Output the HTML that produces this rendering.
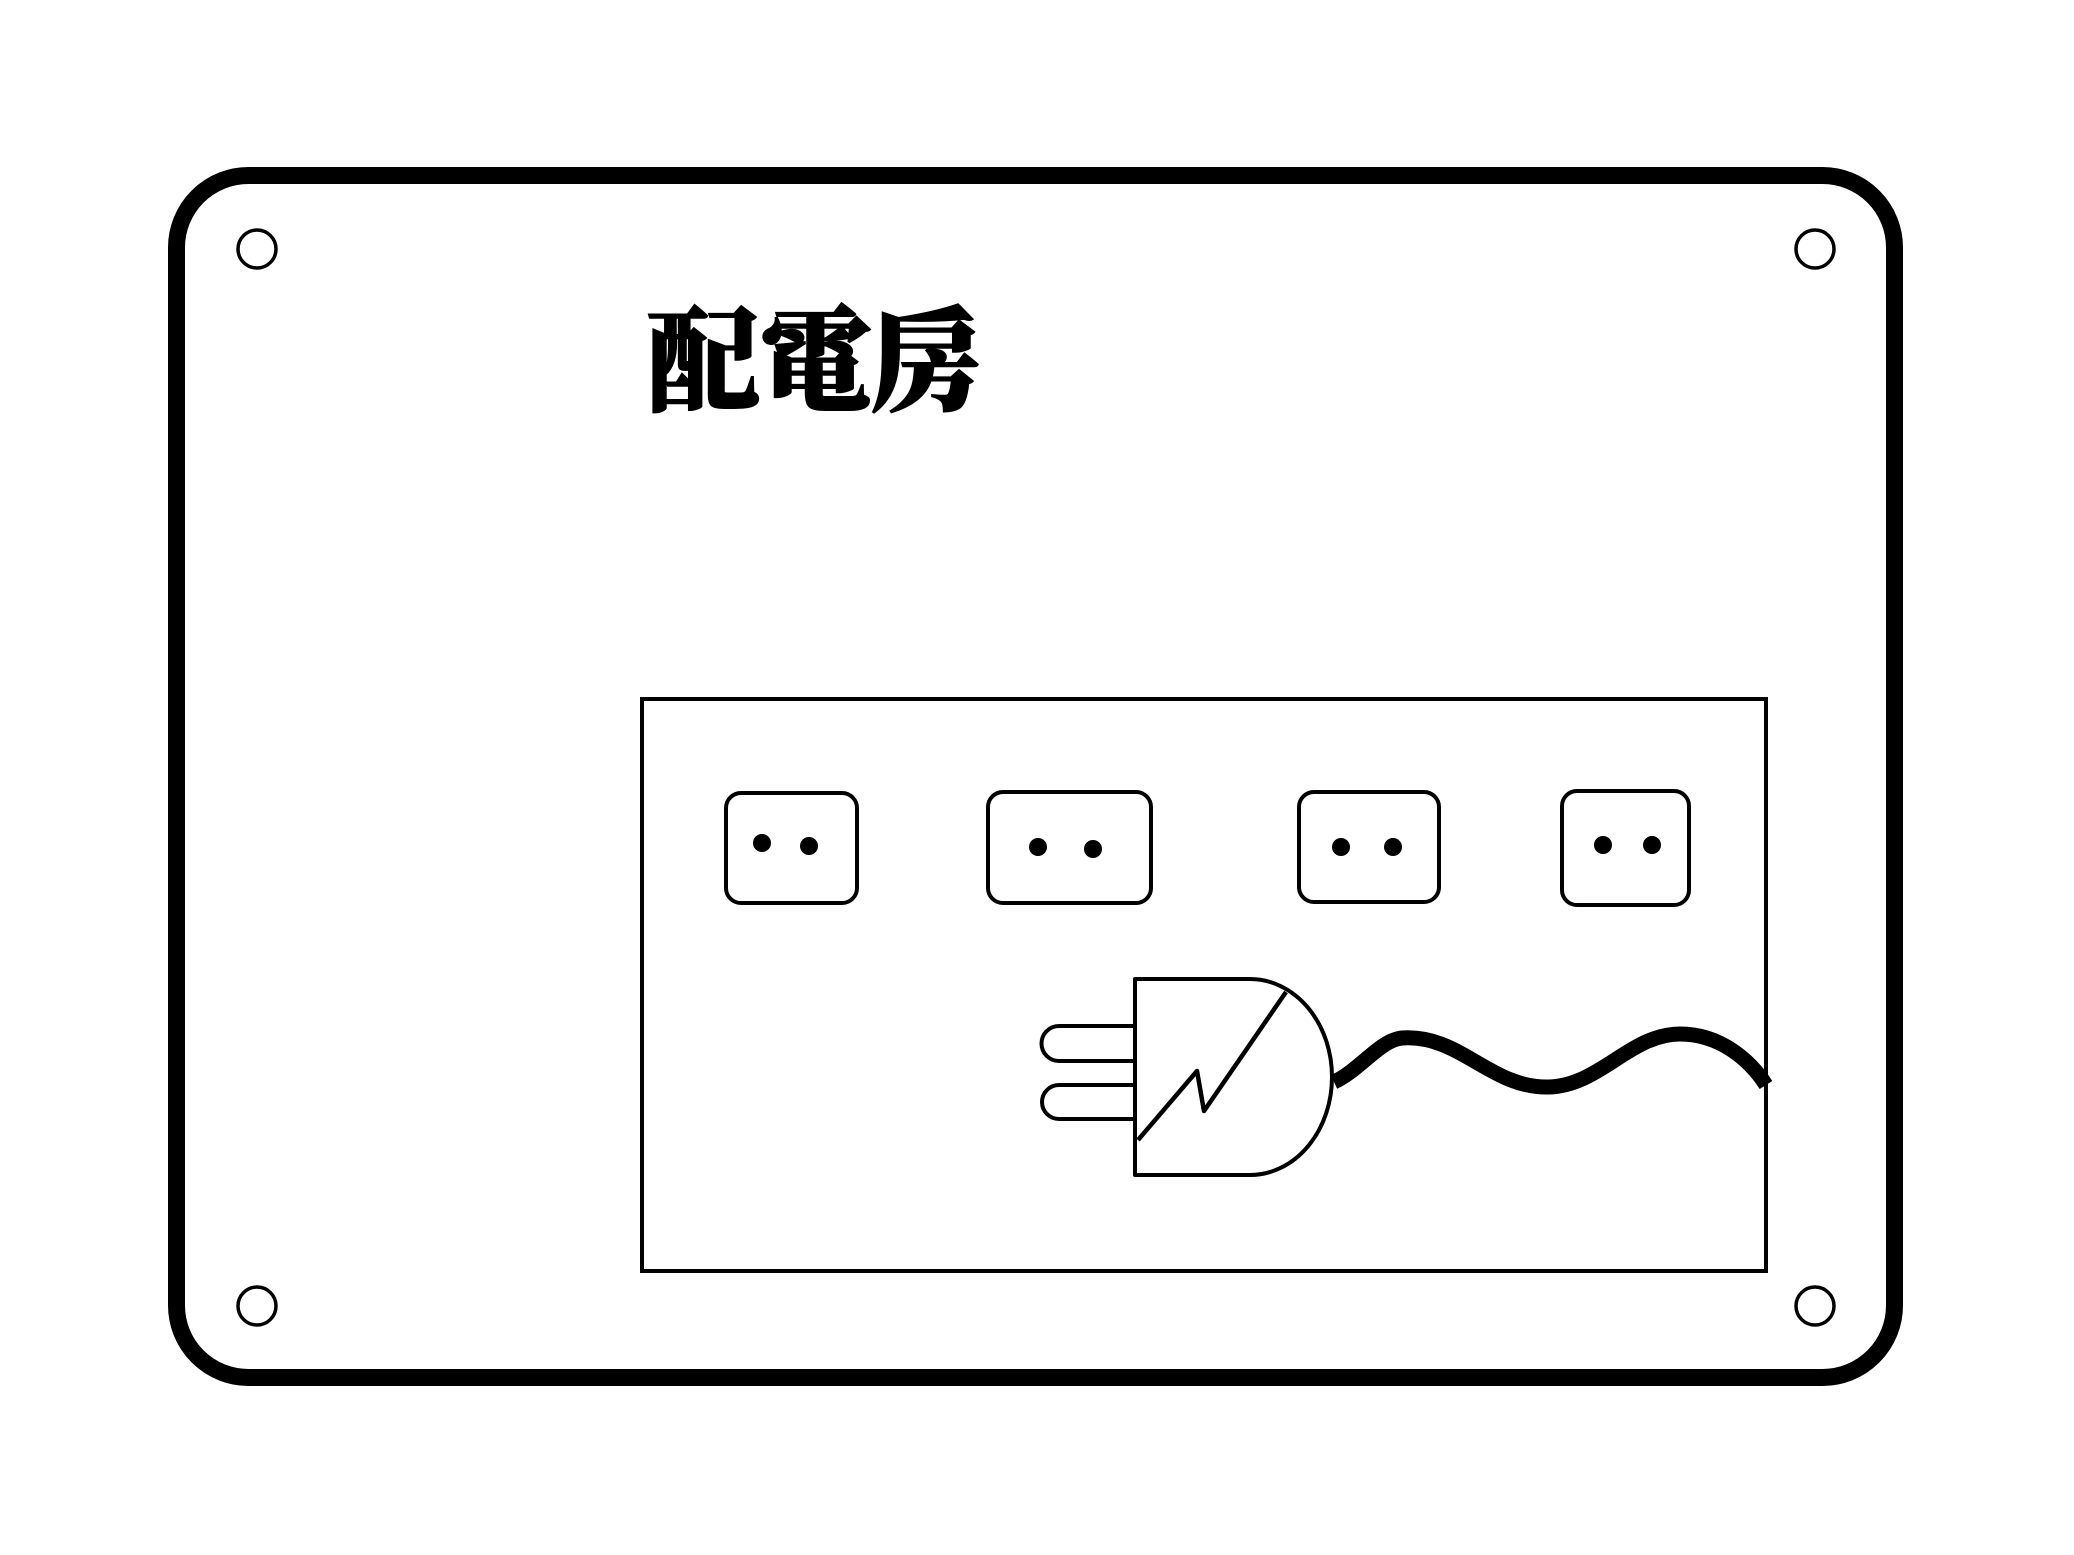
<!DOCTYPE html>
<html><head><meta charset="utf-8"><style>
html,body{margin:0;padding:0;background:#fff;}
svg{display:block}
</style></head><body>
<svg width="2074" height="1555" viewBox="0 0 2074 1555" xmlns="http://www.w3.org/2000/svg">
<rect x="0" y="0" width="2074" height="1555" fill="#fff"/>
<rect x="176.5" y="175.5" width="1718" height="1202" rx="72" ry="72" fill="none" stroke="#000" stroke-width="17"/>
<g fill="none" stroke="#000" stroke-width="3.5">
<circle cx="257" cy="249" r="19"/>
<circle cx="1815" cy="249" r="19"/>
<circle cx="257" cy="1306" r="19"/>
<circle cx="1815" cy="1306" r="19"/>
</g>
<text x="646" y="402" font-family="'Noto Serif CJK TC','Noto Serif CJK SC',serif" font-weight="900" font-size="114" fill="#000" stroke="#000" stroke-width="2" letter-spacing="-2">配電房</text>
<rect x="642" y="699" width="1124" height="572" fill="none" stroke="#000" stroke-width="4"/>
<g fill="none" stroke="#000" stroke-width="4">
<rect x="726" y="793" width="131" height="110" rx="15"/>
<rect x="988" y="792" width="163" height="111" rx="15"/>
<rect x="1299" y="792" width="140" height="110" rx="15"/>
<rect x="1562" y="791" width="127" height="114" rx="15"/>
</g>
<g fill="#000">
<circle cx="762" cy="843" r="9"/><circle cx="809" cy="846" r="9"/>
<circle cx="1038" cy="847" r="9"/><circle cx="1093" cy="849" r="9"/>
<circle cx="1341" cy="847" r="9"/><circle cx="1393" cy="847" r="9"/>
<circle cx="1603" cy="845" r="9"/><circle cx="1652" cy="845" r="9"/>
</g>
<g fill="none" stroke="#000" stroke-width="4" stroke-linejoin="round">
<path d="M1135,979 L1250,979 A82,98 0 0 1 1250,1175 L1135,1175 Z"/>
<path d="M1135,1026 L1059,1026 A17,17 0 0 0 1059,1061 L1135,1061"/>
<path d="M1135,1085 L1059,1085 A17,17 0 0 0 1059,1119 L1135,1119"/>
<path d="M1138,1140 L1197,1071 L1204,1111 L1286,992" stroke-width="4.5"/>
</g>
<path d="M1334,1082 C1360,1070 1380,1040 1402,1038 C1460,1034 1490,1088 1548,1087 C1600,1086 1630,1034 1680,1034 C1720,1034 1750,1060 1766,1085" fill="none" stroke="#000" stroke-width="15"/>
</svg>
</body></html>
